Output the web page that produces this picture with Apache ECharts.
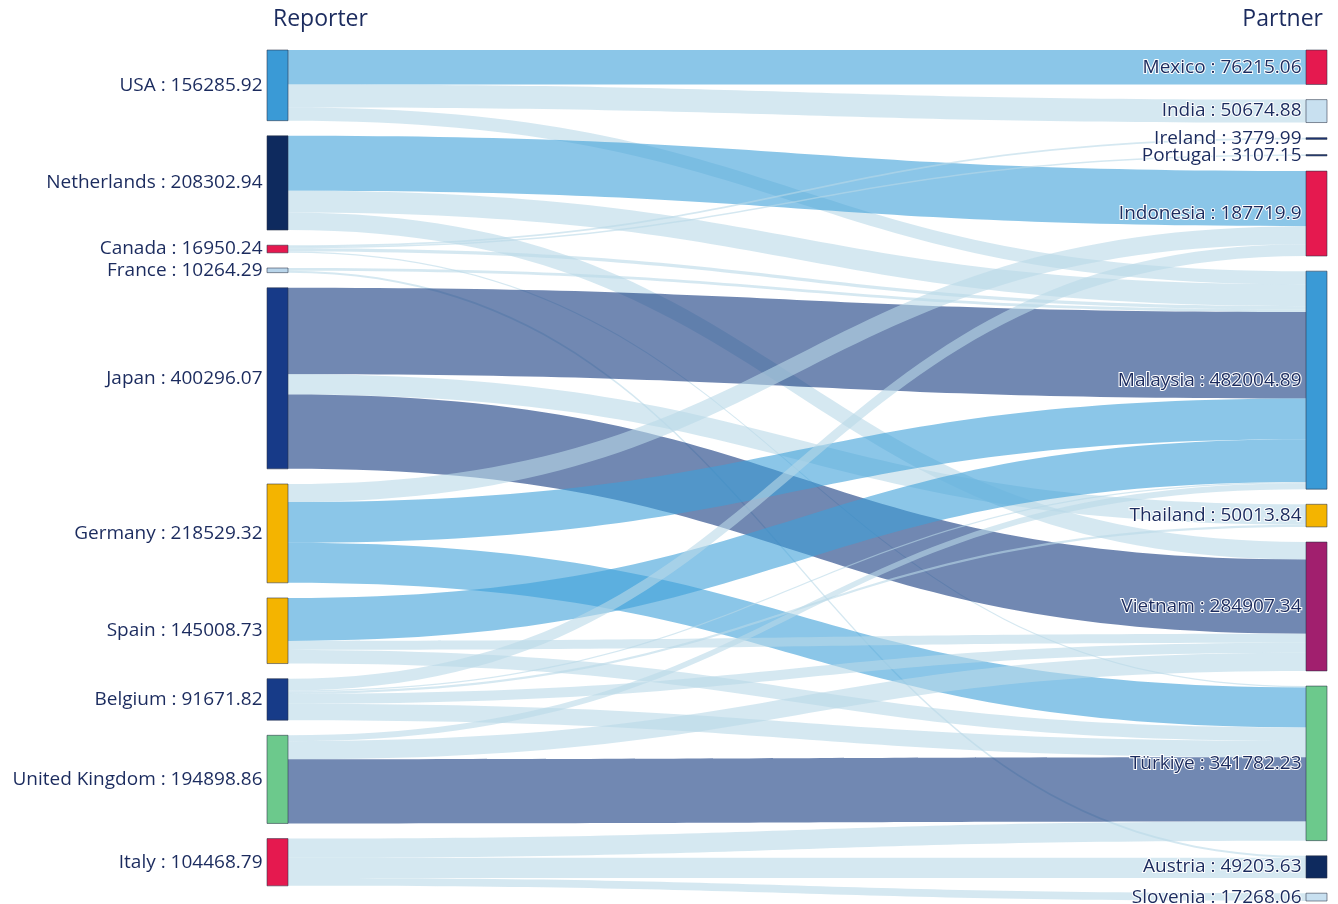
<!DOCTYPE html>
<html>
<head>
<meta charset="utf-8">
<script src="https://cdn.jsdelivr.net/npm/echarts@6/dist/echarts.min.js"></script>
<style>
html,body{margin:0;padding:0;background:#ffffff;}
#chart{width:1338px;height:904px;}
</style>
</head>
<body>
<div id="chart"></div>
<script>
// ---- Data ----
const reporters = ['USA','Netherlands','Canada','France','Japan','Germany','Spain','Belgium','United Kingdom','Italy'];
const reporterTotals = [156285.92,208302.94,16950.24,10264.29,400296.07,218529.32,145008.73,91671.82,194898.86,104468.79];

const partners = ['Mexico','India','Ireland','Portugal','Indonesia','Malaysia','Thailand','Vietnam','Türkiye','Austria','Slovenia'];
const partnerTotals = [76215.06,50674.88,3779.99,3107.15,187719.9,482004.89,50013.84,284907.34,341782.23,49203.63,17268.06];

const flowSource = [
  'USA','USA','USA',
  'Netherlands','Netherlands','Netherlands',
  'Canada','Canada','Canada','Canada',
  'France','France',
  'Japan','Japan','Japan',
  'Germany','Germany','Germany',
  'Spain','Spain','Spain',
  'Belgium','Belgium','Belgium','Belgium','Belgium',
  'United Kingdom','United Kingdom','United Kingdom',
  'Italy','Italy','Italy'
];
const flowTarget = [
  'Mexico','India','Malaysia',
  'Indonesia','Malaysia','Vietnam',
  'Ireland','Portugal','Malaysia','Türkiye',
  'Malaysia','Austria',
  'Malaysia','Thailand','Vietnam',
  'Indonesia','Malaysia','Türkiye',
  'Malaysia','Vietnam','Türkiye',
  'Indonesia','Malaysia','Thailand','Vietnam','Türkiye',
  'Malaysia','Vietnam','Türkiye',
  'Türkiye','Austria','Slovenia'
];
const flowValue = [
  76215.06, 50674.88, 29395.98,
  121700, 47999.85, 38603.09,
  3779.99, 3107.15, 7063.10, 3000,
  6000, 4264.29,
  191000, 45000, 164296.07,
  40000, 90000, 88529.32,
  95000, 20000, 30008.73,
  26019.9, 2546, 5013.84, 22008.25, 36083.83,
  13000, 40000, 141898.86,
  42261.39, 44939.34, 17268.06
];

// ---- Styles ----
const reporterColors = ['#3a9ad6','#0e2a5e','#e5194f','#b9d5ea','#173a88','#f4b400','#f4b400','#173b88','#6cc98c','#e5194f'];
const partnerColors  = ['#e5194f','#c8e0f0','#1c3577','#1c3577','#e5194f','#3a9ad6','#f4b400','#a11f6e','#6cc98c','#0e2a5e','#c8e0f0'];
const linkDark = 'rgb(18,56,127)';
const linkMid = 'rgb(62,160,216)';
const linkLight = 'rgb(185,216,232)';
function linkColor(v){ return v >= 130000 ? linkDark : (v >= 70000 ? linkMid : linkLight); }

const nodes = [];
reporters.forEach((n,i)=>nodes.push({name:n, value:reporterTotals[i], itemStyle:{color:reporterColors[i]}}));
partners.forEach((n,i)=>nodes.push({name:n, value:partnerTotals[i], itemStyle:{color:partnerColors[i]}}));

const links = flowValue.map((v,i)=>({
  source: flowSource[i], target: flowTarget[i], value: v,
  lineStyle: {color: linkColor(v), opacity: 0.6}
}));

const textColor = '#1b2b5e';
const chart = echarts.init(document.getElementById('chart'), null, {renderer:'canvas'});
chart.setOption({
  animation: false,
  backgroundColor: '#ffffff',
  title: [
    {text:'Reporter', left: 268, top: 3, textStyle:{fontSize:23, fontWeight:'normal', color:textColor, fontFamily:'Open Sans'}},
    {text:'Partner', right: 10, top: 3, textStyle:{fontSize:23, fontWeight:'normal', color:textColor, fontFamily:'Open Sans'}}
  ],
  series: [{
    type: 'sankey',
    left: 267, right: 11, top: 50, bottom: 3,
    nodeWidth: 21,
    nodeGap: 15.15,
    layoutIterations: 0,
    draggable: false,
    emphasis: {disabled: true},
    data: nodes,
    links: links,
    itemStyle: {borderColor: 'rgba(40,50,70,0.55)', borderWidth: 1},
    lineStyle: {curveness: 0.5, opacity: 0.6},
    label: {
      position: 'left',
      distance: 4,
      color: textColor,
      fontSize: 19,
      fontFamily: 'Open Sans',
      textBorderColor: '#ffffff',
      textBorderWidth: 2,
      formatter: p => p.name + ' : ' + p.value
    }
  }]
});
</script>
</body>
</html>
